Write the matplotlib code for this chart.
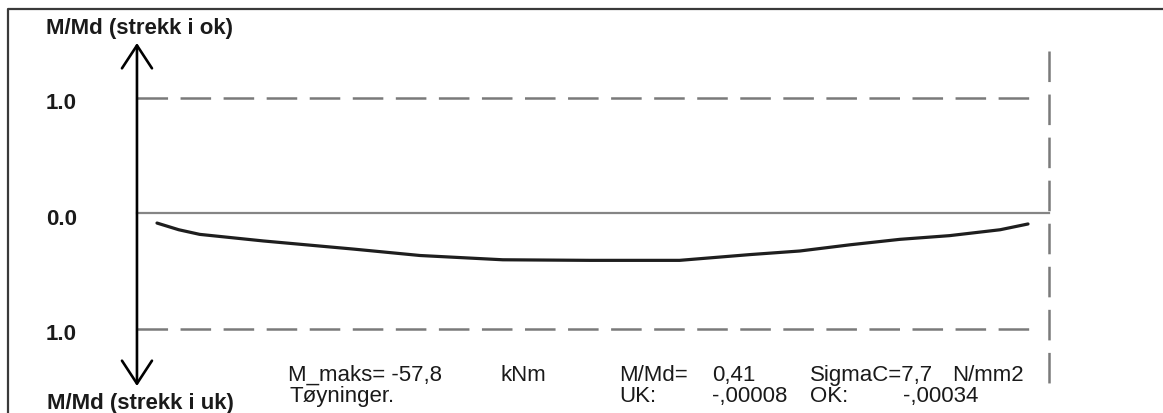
import matplotlib.pyplot as plt
import matplotlib.transforms as mtransforms
from matplotlib.lines import Line2D

plt.rcParams['font.family'] = ['Liberation Sans', 'DejaVu Sans']
plt.rcParams['lines.scale_dashes'] = False

# Moment utilisation M/Md along the beam (position as x/L)
pos = [0.0, 0.025, 0.049, 0.122, 0.225, 0.302, 0.397, 0.497, 0.600,
       0.681, 0.738, 0.796, 0.853, 0.910, 0.968, 1.0]
m_md = [-0.087, -0.145, -0.185, -0.242, -0.312, -0.368, -0.405, -0.41, -0.41,
        -0.360, -0.329, -0.275, -0.228, -0.196, -0.145, -0.095]

limit = 1.0
y_ticks = [1.0, 0.0, -1.0]
y_tick_labels = ['1.0', '0.0', '1.0']

# Result summary
m_maks = '-57,8'
m_unit = 'kNm'
ratio = '0,41'
sigma_c = '7,7'
sigma_unit = 'N/mm2'
eps_uk = '-,00008'
eps_ok = '-,00034'

W, H = 1163, 414
fig = plt.figure(figsize=(W / 100, H / 100), dpi=100)
ax = fig.add_axes([0, 0, 1, 1])
# beam from x/L=0..1 spans 871 px starting at 157 px, 1.0 of M/Md is 115.5 px
ax.set_xlim(-157 / 871, 1006 / 871)
ax.set_ylim(-200 / 115.5, 214 / 115.5)
ax.axis('off')

# pixel coordinates measured from the top-left corner
px = mtransforms.Affine2D().scale(1 / W, -1 / H).translate(0, 1) + fig.transFigure

# frame
fig.add_artist(Line2D([8, 8, W + 5], [H + 5, 10, 10], transform=px,
                      color='#3a3a3a', lw=1.6))

x_axis = -0.023
x_end = 1.024
x_dash_end = 1.010
dash = (22, 9)

# limit lines and zero line
for yv in (limit, -limit):
    ax.plot([x_axis, x_dash_end], [yv, yv], color='#7a7a7a', lw=1.8,
            dashes=dash, solid_capstyle='butt', dash_capstyle='butt')
ax.plot([x_axis, x_end], [0, 0], color='#858585', lw=1.6)
ax.plot([x_end, x_end], [1.40, -1.51], color='#7a7a7a', lw=1.8,
        dashes=dash, dash_capstyle='butt')

# moment curve
ax.plot(pos, m_md, color='#1e1e1e', lw=2.3, solid_capstyle='round',
        solid_joinstyle='round')

# double arrow for the M/Md axis
ax.annotate('', xy=(x_axis, 1.472), xytext=(x_axis, -1.498),
            arrowprops=dict(arrowstyle='<->,head_length=16.5,head_width=10.8',
                            mutation_scale=1, lw=1.9, color='black',
                            shrinkA=0, shrinkB=0))

tc = '#1a1a1a'
bold = dict(fontsize=16, fontweight='bold', color=tc, transform=px,
            ha='left', va='baseline')
reg = dict(fontsize=16, color=tc, transform=px, ha='left', va='baseline')

fig.text(46, 34, 'M/Md (strekk i ok)', **bold)
fig.text(47, 409, 'M/Md (strekk i uk)', **bold)
for yv, lab in zip(y_ticks, y_tick_labels):
    ypx = 214 - yv * 115.5
    fig.text(46, ypx + 11, lab, **bold)

fig.text(288, 381, 'M_maks= ' + m_maks, **reg)
fig.text(500, 381, m_unit, **reg)
fig.text(619, 381, 'M/Md=', **reg)
fig.text(712, 381, ratio, **reg)
fig.text(810, 381, 'SigmaC=' + sigma_c, **reg)
fig.text(952, 381, sigma_unit, **reg)

fig.text(290, 402, 'Tøyninger.', **reg)
fig.text(619, 402, 'UK:', **reg)
fig.text(712, 402, eps_uk, **reg)
fig.text(810, 402, 'OK:', **reg)
fig.text(903, 402, eps_ok, **reg)

fig.savefig('out.png', dpi=100)
